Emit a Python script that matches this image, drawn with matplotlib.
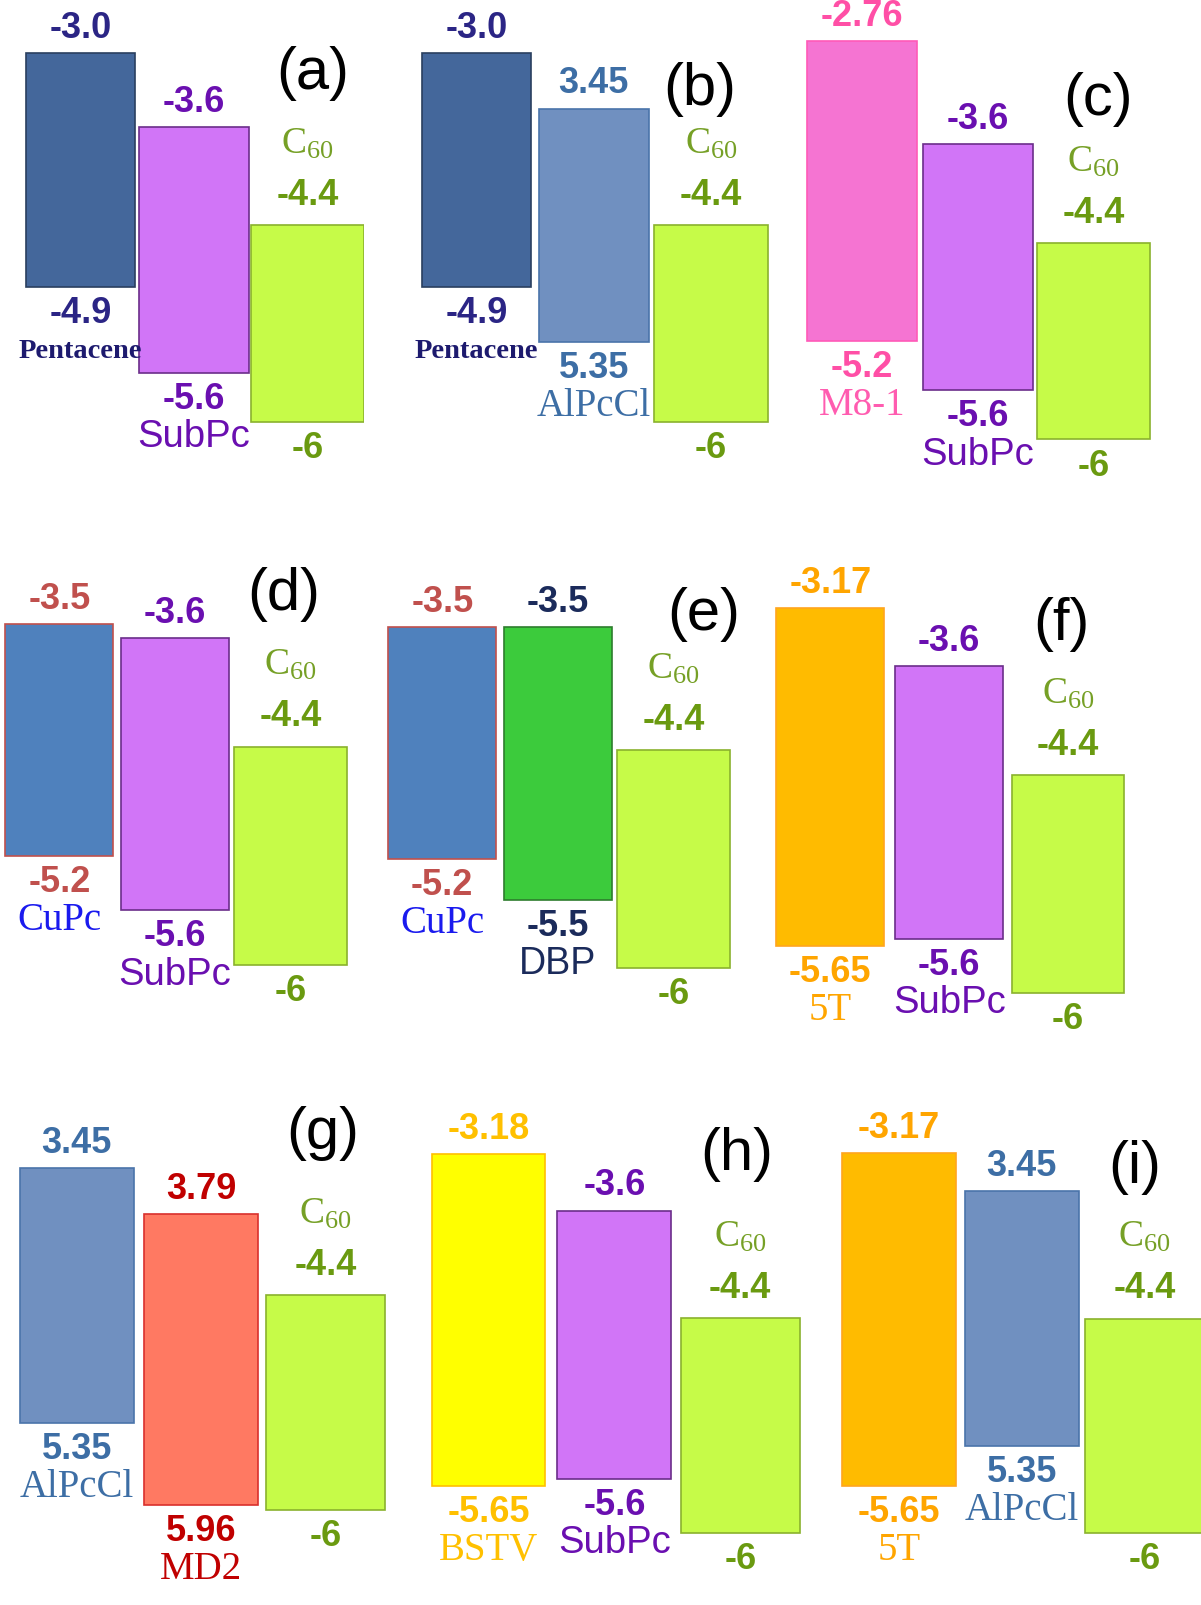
import matplotlib.pyplot as plt
from matplotlib.patches import Rectangle

plt.rcParams['mathtext.fontset'] = 'custom'
plt.rcParams['mathtext.rm'] = 'Liberation Serif'
plt.rcParams['mathtext.it'] = 'Liberation Serif:italic'

# === data: energy levels (eV) ===
panel_tags = ["(a)", "(b)", "(c)", "(d)", "(e)", "(f)", "(g)", "(h)", "(i)"]

donor1 = ["Pentacene", "Pentacene", "M8-1", "CuPc", "CuPc", "5T", "AlPcCl", "BSTV", "5T"]
donor1_lumo = [-3.0, -3.0, -2.76, -3.5, -3.5, -3.17, -3.45, -3.18, -3.17]
donor1_homo = [-4.9, -4.9, -5.2, -5.2, -5.2, -5.65, -5.35, -5.65, -5.65]
donor1_lumo_txt = ["-3.0", "-3.0", "-2.76", "-3.5", "-3.5", "-3.17", "3.45", "-3.18", "-3.17"]
donor1_homo_txt = ["-4.9", "-4.9", "-5.2", "-5.2", "-5.2", "-5.65", "5.35", "-5.65", "-5.65"]

donor2 = ["SubPc", "AlPcCl", "SubPc", "SubPc", "DBP", "SubPc", "MD2", "SubPc", "AlPcCl"]
donor2_lumo = [-3.6, -3.45, -3.6, -3.6, -3.5, -3.6, -3.79, -3.6, -3.45]
donor2_homo = [-5.6, -5.35, -5.6, -5.6, -5.5, -5.6, -5.96, -5.6, -5.35]
donor2_lumo_txt = ["-3.6", "3.45", "-3.6", "-3.6", "-3.5", "-3.6", "3.79", "-3.6", "3.45"]
donor2_homo_txt = ["-5.6", "5.35", "-5.6", "-5.6", "-5.5", "-5.6", "5.96", "-5.6", "5.35"]

acceptor = "C60"
acceptor_lumo = -4.4
acceptor_homo = -6.0
acceptor_lumo_txt = "-4.4"
acceptor_homo_txt = "-6"

# === styles: fill, edge, value colour, name colour, name font, weight, size ===
style = {
    "Pentacene": ("#44679b", "#2a3f5f", "#2b2585", "#1d1a6e", "Liberation Serif", "bold", 20.5),
    "SubPc":     ("#d175f7", "#6b2d8a", "#6a0fb0", "#6a0fb0", "Liberation Sans", "normal", 27.5),
    "C60":       ("#c6fb48", "#8ab22d", "#6a9a10", "#76a026", "Liberation Serif", "normal", 27),
    "AlPcCl":    ("#7090c0", "#4a74aa", "#3d6ea5", "#3d6ea5", "Liberation Serif", "normal", 28),
    "M8-1":      ("#f574d2", "#ff5ab8", "#ff4fa6", "#ff5cb0", "Liberation Serif", "normal", 28),
    "CuPc":      ("#4f81bd", "#c0504d", "#c0504d", "#1a1aee", "Liberation Serif", "normal", 28),
    "DBP":       ("#3ccb3c", "#2d7d2d", "#1b2b5b", "#1b2b5b", "Liberation Sans", "normal", 27),
    "5T":        ("#ffbb00", "#ffa51f", "#ffa500", "#ffa500", "Liberation Serif", "normal", 28),
    "MD2":       ("#ff7962", "#d9302c", "#c00000", "#c00000", "Liberation Serif", "normal", 28),
    "BSTV":      ("#ffff00", "#ffc000", "#ffc000", "#ffc000", "Liberation Serif", "normal", 28),
}

# === layout (measured on 1173x1568 preview) ===
REF_W, REF_H = 1173, 1568
PT = 1201 / 1173 * 0.72   # preview px -> points
center0 = [78.5, 465.5, 842, 58, 432, 811, 75, 477, 878]
slot = [111, 114.5, 113, 113, 113, 116, 121.5, 123, 120]
donor_w = [107] * 3 + [105.5] * 3 + [111] * 3
acc_w = [111] * 3 + [110] * 3 + [116] * 3
px_per_ev = [120] * 3 + [133] * 3 + [131] * 3
y_at_45 = [233, 233, 250, 743.3, 746.6, 771.3, 1278.9, 1300.8, 1301.4]
tag_xy = [(305, 72), (683, 87), (1072, 97), (277, 580), (687, 600), (1037, 610),
          (315, 1107), (720, 1127), (1108, 1140)]

off_top, off_top_acc, off_c60, off_bot, off_name = 25, 30, 80, 25, 62

fig = plt.figure(figsize=(12.01, 16.06), dpi=100)

for k in range(9):
    s = slot[k]
    ax = fig.add_axes([(center0[k] - 0.5 * s) / REF_W, 0, 3 * s / REF_W, 1])
    ax.set_xlim(-0.5, 2.5)
    ax.set_ylim(-4.5 - (REF_H - y_at_45[k]) / px_per_ev[k],
                -4.5 + y_at_45[k] / px_per_ev[k])
    ax.axis('off')

    bars = [
        (donor1[k], donor1_lumo[k], donor1_homo[k], donor1_lumo_txt[k], donor1_homo_txt[k], donor_w[k]),
        (donor2[k], donor2_lumo[k], donor2_homo[k], donor2_lumo_txt[k], donor2_homo_txt[k], donor_w[k]),
        (acceptor, acceptor_lumo, acceptor_homo, acceptor_lumo_txt, acceptor_homo_txt, acc_w[k]),
    ]
    for i, (name, lumo, homo, ltxt, htxt, wpx) in enumerate(bars):
        fill, edge, vcol, ncol, nfam, nweight, nsize = style[name]
        w = wpx / s
        ax.add_patch(Rectangle((i - w / 2, homo), w, lumo - homo,
                               facecolor=fill, edgecolor=edge, linewidth=1.2))
        top_off = off_top_acc if name == acceptor else off_top
        ax.annotate(ltxt, (i, lumo), xytext=(0, top_off * PT), textcoords='offset points',
                    ha='center', va='center', color=vcol, fontsize=26,
                    fontweight='bold', family='Liberation Sans')
        ax.annotate(htxt, (i, homo), xytext=(0, -off_bot * PT), textcoords='offset points',
                    ha='center', va='center', color=vcol, fontsize=26,
                    fontweight='bold', family='Liberation Sans')
        if name == acceptor:
            ax.annotate("C$_{60}$", (i, lumo), xytext=(0, off_c60 * PT), textcoords='offset points',
                        ha='center', va='center', color=ncol, fontsize=nsize, family=nfam)
        else:
            ax.annotate(name, (i, homo), xytext=(0, -off_name * PT), textcoords='offset points',
                        ha='center', va='center', color=ncol, fontsize=nsize,
                        fontweight=nweight, family=nfam)

    tx, ty = tag_xy[k]
    fig.text(tx / REF_W, 1 - ty / REF_H, panel_tags[k], ha='center', va='center',
             fontsize=43, family='Liberation Sans', color='black')

fig.savefig("out.png", dpi=100)
